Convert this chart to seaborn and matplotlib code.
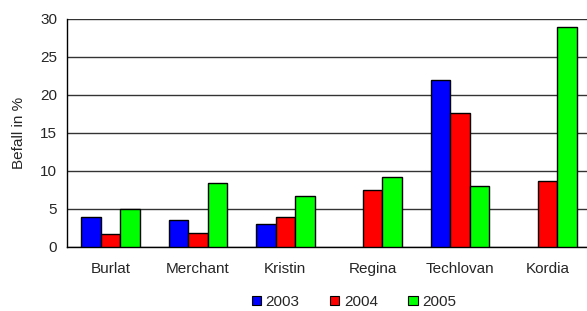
import matplotlib
matplotlib.use("Agg")
import matplotlib.pyplot as plt
from matplotlib.patches import Patch
import seaborn as sns
import pandas as pd
import numpy as np

categories = ["Burlat", "Merchant", "Kristin", "Regina", "Techlovan", "Kordia"]
years = ["2003", "2004", "2005"]
v2003 = [4.0, 3.5, 3.0, None, 22.0, None]
v2004 = [1.7, 1.8, 4.0, 7.5, 17.6, 8.7]
v2005 = [5.0, 8.4, 6.7, 9.2, 8.0, 28.9]
colors = ["#0000FF", "#FF0000", "#00FF00"]
yticks = [0, 5, 10, 15, 20, 25, 30]

rows = []
for yr, vals in zip(years, [v2003, v2004, v2005]):
    for c, v in zip(categories, vals):
        if v is not None:
            rows.append({"Sorte": c, "Jahr": yr, "Befall": v})
df = pd.DataFrame(rows)

sns.set_style("white")
plt.rcParams["font.family"] = ["Liberation Sans", "DejaVu Sans"]
FS = 11

fig = plt.figure(figsize=(5.87, 3.11), dpi=100)
ax = fig.add_axes([67/587, 1-247/311, (591-67)/587, (247-19)/311])

sns.barplot(data=df, x="Sorte", y="Befall", hue="Jahr", order=categories,
            hue_order=years, palette=colors, width=0.675, errorbar=None,
            edgecolor="black", linewidth=1.0, saturation=1, ax=ax, legend=False,
            zorder=3)

ax.set_ylim(0, 30)
ax.set_xlim(-0.5, len(categories) - 0.5)
ax.set_yticks(yticks)
ax.set_yticklabels([str(t) for t in yticks], fontsize=FS)
ax.yaxis.grid(True, color="#333333", linewidth=1.0, zorder=0)
ax.set_axisbelow(True)
ax.tick_params(axis="y", length=4, width=1, color="black", pad=3)
ax.tick_params(axis="x", which="major", length=0, pad=11, labelsize=FS)
ax.set_xticks(np.arange(-0.5, len(categories), 1.0), minor=True)
ax.tick_params(axis="x", which="minor", length=4, width=1, color="black")
ax.set_xlabel("")
ax.set_ylabel("Befall in %", fontsize=FS, labelpad=10)
for s in ["top", "right"]:
    ax.spines[s].set_visible(False)
for s in ["left", "bottom"]:
    ax.spines[s].set_color("black")
    ax.spines[s].set_linewidth(1.0)

handles = [Patch(facecolor=c, edgecolor="black", linewidth=0.8) for c in colors]
fig.legend(handles, years, loc="center", bbox_to_anchor=(354/587, 1-302/311),
           ncol=3, frameon=False, fontsize=FS, handlelength=0.6,
           handleheight=0.6, handletextpad=0.3, columnspacing=2.0)

fig.savefig("out.png", dpi=100)
